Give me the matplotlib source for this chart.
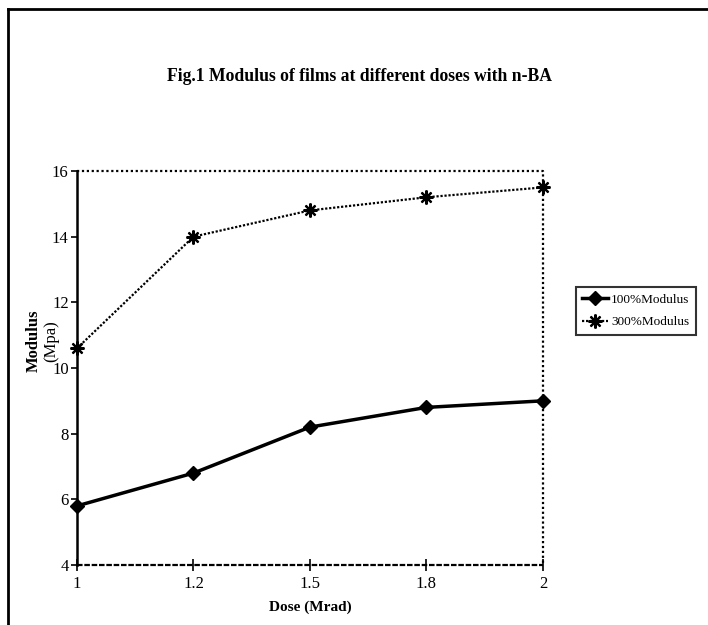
import matplotlib
matplotlib.use("Agg")
import matplotlib.pyplot as plt
from matplotlib.lines import Line2D

# ── data ──────────────────────────────────────────────────────────────────────
doses = ["1", "1.2", "1.5", "1.8", "2"]
modulus_100 = [5.8, 6.8, 8.2, 8.8, 9.0]
modulus_300 = [10.6, 14.0, 14.8, 15.2, 15.5]
y_ticks = [4, 6, 8, 10, 12, 14, 16]

FONT = "Liberation Serif"

fig = plt.figure(figsize=(7.08, 6.25), dpi=100)

# outer frame (only top and left edges visible in the scan)
fig.add_artist(Line2D([0.011, 0.011], [0.0, 0.986], color="black", lw=2,
                      transform=fig.transFigure))
fig.add_artist(Line2D([0.011, 1.0], [0.986, 0.986], color="black", lw=2,
                      transform=fig.transFigure))

ax = fig.add_axes([0.1088, 0.096, 0.658, 0.6304])
x = list(range(len(doses)))

ax.plot(x, modulus_100, color="black", lw=2.5, marker="D", markersize=7,
        label="100%Modulus", zorder=3, clip_on=False)
ax.plot(x, modulus_300, color="black", lw=1.6, linestyle=(0, (1, 0.8)),
        marker=(8, 2, 0), markersize=10, markeredgewidth=1.6,
        label="300%Modulus", zorder=3, clip_on=False)

ax.set_xlim(0, len(doses) - 1)
ax.set_ylim(4, 16)
ax.set_xticks(x)
ax.set_xticklabels(doses, fontfamily=FONT, fontsize=12)
ax.set_yticks(y_ticks)
ax.set_yticklabels([str(v) for v in y_ticks], fontfamily=FONT, fontsize=12)
ax.tick_params(axis="x", direction="inout", length=8, width=1.2, pad=4)
ax.tick_params(axis="y", direction="out", length=4, width=1.2, pad=2)

# plot-area border: solid left axis, dotted elsewhere
ax.spines["left"].set_linewidth(1.8)
for side in ["top", "right", "bottom"]:
    ax.spines[side].set_visible(False)
ax.plot([0, 4, 4], [16, 16, 4], color="black", lw=1.6,
        linestyle=(0, (1, 1.2)), clip_on=False, zorder=2)
ax.plot([0, 4], [4, 4], color="black", lw=1.6,
        linestyle=(0, (2.5, 0.8)), clip_on=False, zorder=2)

fig.text(0.508, 0.878, "Fig.1 Modulus of films at different doses with n-BA",
         ha="center", va="center", fontfamily=FONT, fontweight="bold",
         fontsize=12.7)
ax.set_xlabel("Dose (Mrad)", fontfamily=FONT, fontweight="bold", fontsize=11,
              labelpad=6)
fig.text(0.047, 0.455, "Modulus", rotation=90, ha="center", va="center",
         fontfamily=FONT, fontweight="bold", fontsize=12)
fig.text(0.073, 0.455, "(Mpa)", rotation=90, ha="center", va="center",
         fontfamily=FONT, fontsize=12)

leg = ax.legend(loc="center left", bbox_to_anchor=(1.07, 0.645),
                prop={"family": FONT, "size": 9.5}, frameon=True,
                fancybox=False, edgecolor="black", handlelength=2.0,
                borderpad=0.5, labelspacing=0.8, handletextpad=0.2,
                borderaxespad=0)
leg.get_frame().set_linewidth(1.5)

fig.savefig("out.png", dpi=100)
